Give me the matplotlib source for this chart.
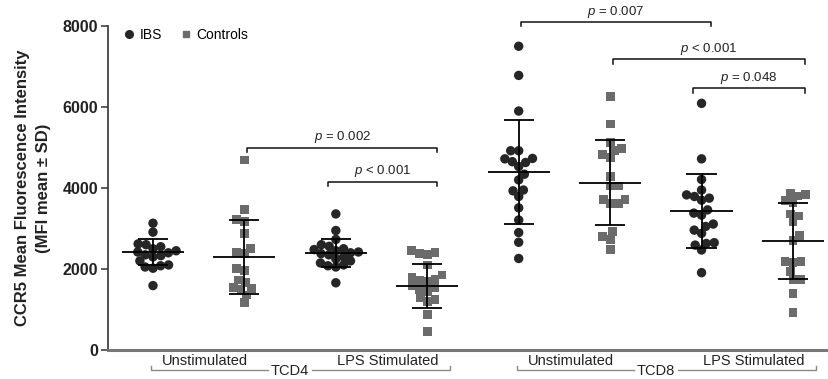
import matplotlib
matplotlib.use("Agg")
import matplotlib.pyplot as plt
from matplotlib.lines import Line2D
import numpy as np

plt.rcParams["font.family"] = ["Liberation Sans", "DejaVu Sans"]
plt.rcParams["mathtext.fontset"] = "custom"
plt.rcParams["mathtext.it"] = "Liberation Sans:italic"
plt.rcParams["mathtext.rm"] = "Liberation Sans"

# ---------------------------------------------------
# DATA
# ---------------------------------------------------

cd4_unstim_ibs = [3130, 2910, 2620, 2600, 2550, 2500, 2450, 2420, 2400, 2350,
                  2330, 2300, 2200, 2100, 2080, 2050, 2020, 1590]
cd4_unstim_ctrl = [4690, 3470, 3220, 3170, 2880, 2510, 2400, 2390, 2020, 1960,
                   1730, 1660, 1550, 1510, 1500, 1360, 1170]
cd4_lps_ibs = [3360, 2950, 2730, 2600, 2560, 2500, 2480, 2450, 2420, 2400,
               2380, 2350, 2300, 2250, 2200, 2150, 2100, 2080, 2050, 1660]
cd4_lps_ctrl = [2450, 2400, 2380, 2350, 2100, 1850, 1800, 1750, 1720, 1700,
                1600, 1550, 1500, 1450, 1300, 1250, 1200, 880, 450]
cd8_unstim_ibs = [7500, 6780, 5900, 4920, 4920, 4730, 4720, 4650, 4630, 4530,
                  4340, 4200, 3950, 3930, 3790, 3510, 3210, 2900, 2660, 2260]
cd8_unstim_ctrl = [6250, 5580, 5120, 4980, 4920, 4820, 4750, 4280, 4050, 4050,
                   3720, 3720, 3620, 3620, 2920, 2800, 2730, 2490]
cd8_lps_ibs = [6090, 4720, 4210, 3950, 3830, 3790, 3750, 3700, 3460, 3380,
               3330, 3110, 3050, 2960, 2880, 2650, 2630, 2590, 2470, 1910]
cd8_lps_ctrl = [3870, 3830, 3800, 3700, 3640, 3360, 3310, 3170, 2820, 2700,
                2180, 2180, 2160, 1930, 1750, 1740, 1400, 920]

series = [cd4_unstim_ibs, cd4_unstim_ctrl, cd4_lps_ibs, cd4_lps_ctrl,
          cd8_unstim_ibs, cd8_unstim_ctrl, cd8_lps_ibs, cd8_lps_ctrl]
kinds = ["IBS", "Controls"] * 4

means = [2410, 2300, 2400, 1590, 4390, 4130, 3430, 2690]
sds = [320, 910, 340, 545, 1290, 1050, 910, 930]

# (left group, right group, height, label)
brackets = [
    (1, 3, 4990, "$p$ = 0.002"),
    (2, 3, 4150, "$p$ < 0.001"),
    (4, 6, 8100, "$p$ = 0.007"),
    (5, 7, 7180, "$p$ < 0.001"),
    (6, 7, 6460, "$p$ = 0.048"),
]

cell_types = ["TCD4", "TCD8"]
conditions = ["Unstimulated", "LPS Stimulated"]

IBS_COLOR = "#262626"
CTRL_COLOR = "#6b6b6b"

# ---------------------------------------------------
# LAYOUT
# ---------------------------------------------------

W, H = 829, 379
fig = plt.figure(figsize=(W / 100, H / 100), dpi=100)
ax = fig.add_axes([108 / W, 29 / H, 721 / W, 324 / H])
ax.set_xlim(-0.492, 7.394)
ax.set_ylim(0, 8000)

PX_X = 721 / (7.394 + 0.492)
PX_Y = 324 / 8000


def swarm_offsets(vals, diam):
    # simple beeswarm: place each point as near the centre as it fits
    vals = np.asarray(vals, dtype=float)
    order = np.argsort(vals)
    placed = []
    offs = np.zeros(len(vals))
    for k in order:
        y = vals[k] * PX_Y
        cands = [0.0]
        bounds = []
        for px, py in placed:
            dy = abs(py - y)
            if dy < diam:
                w = np.sqrt(diam ** 2 - dy ** 2)
                bounds.append((px - w, px + w))
                cands += [px - w, px + w]
        cands.sort(key=lambda c: (round(abs(c), 6), -c if len(placed) % 2 else c))
        for c in cands:
            if all(not (lo + 1e-6 < c < hi - 1e-6) for lo, hi in bounds):
                offs[k] = c
                placed.append((c, y))
                break
    return offs / PX_X


for i, (vals, kind) in enumerate(zip(series, kinds)):
    if kind == "IBS":
        xs = i + swarm_offsets(vals, 8.0)
        ax.scatter(xs, vals, s=46, marker="o", color=IBS_COLOR,
                   edgecolors="none", zorder=2, clip_on=False)
    else:
        xs = i + swarm_offsets(vals, 8.0)
        ax.scatter(xs, vals, s=40, marker="s", color=CTRL_COLOR,
                   edgecolors="none", zorder=2, clip_on=False)

    m, sd = means[i], sds[i]
    ax.hlines(m, i - 0.34, i + 0.34, color="black", lw=1.3, zorder=3)
    ax.vlines(i, m - sd, m + sd, color="black", lw=1.3, zorder=3)
    ax.hlines([m - sd, m + sd], i - 0.165, i + 0.165, color="black",
              lw=1.3, zorder=3)

# significance brackets
drop = 110
for left, right, y, label in brackets:
    x0 = left + (0.03 if left in (1, 4, 5) else -0.09)
    x1 = right + (0.11 if right in (3,) else 0.13)
    if right == 6:
        x1 = right + 0.1
    ax.plot([x0, x0, x1, x1], [y - drop, y, y, y - drop], color="#111111",
            lw=1.1, clip_on=False, zorder=4)
    ax.text((x0 + x1) / 2, y + 60, label, ha="center", va="bottom",
            fontsize=9.5, color="#222222", clip_on=False)

# axes styling
for s in ("top", "right"):
    ax.spines[s].set_visible(False)
ax.spines["left"].set_color("#333333")
ax.spines["left"].set_linewidth(1.2)
ax.spines["bottom"].set_color("#777777")
ax.spines["bottom"].set_linewidth(2.2)
ax.set_xticks([])
ax.set_yticks([0, 2000, 4000, 6000, 8000])
ax.tick_params(axis="y", length=5, width=1.1, color="#333333", pad=2)
for lab in ax.get_yticklabels():
    lab.set_fontweight("bold")
    lab.set_fontsize(11.5)
    lab.set_color("#222222")

fig.text(33 / W, 1 - 188 / H,
         "CCR5 Mean Fluorescence Intensity\n(MFI mean \u00b1 SD)",
         rotation=90, ha="center", va="center", multialignment="center",
         fontsize=12, fontweight="bold", color="#222222", linespacing=1.45)

# legend
handles = [
    Line2D([], [], ls="", marker="o", markersize=5.5, color=IBS_COLOR, label="IBS"),
    Line2D([], [], ls="", marker="s", markersize=5, color=CTRL_COLOR, label="Controls"),
]
ax.legend(handles=handles, loc="upper left", bbox_to_anchor=(0.01, 1.01),
          ncol=2, frameon=False, fontsize=10, handletextpad=0.15,
          columnspacing=1.1, borderaxespad=0, handlelength=1.2)

# grouped x labels
tr = ax.get_xaxis_transform()
y_line = -0.062
for g, cell in enumerate(cell_types):
    base = g * 4
    x_left = base - 0.02
    x_right = base + 3.25
    x_mid = base + 1.5
    gap = 0.24
    ax.plot([x_left, x_left, x_mid - gap], [y_line + 0.012, y_line, y_line],
            transform=tr, color="#8a8a8a", lw=1, clip_on=False)
    ax.plot([x_mid + gap, x_right, x_right], [y_line, y_line, y_line + 0.012],
            transform=tr, color="#8a8a8a", lw=1, clip_on=False)
    ax.text(x_mid, y_line - 0.004, cell, transform=tr, ha="center", va="center",
            fontsize=10.5, color="#222222")
    for c, cond in enumerate(conditions):
        ax.text(base + 2 * c + 0.57, y_line + 0.006, cond, transform=tr,
                ha="center", va="bottom", fontsize=10.5, color="#222222")

fig.savefig("out.png", dpi=100)
